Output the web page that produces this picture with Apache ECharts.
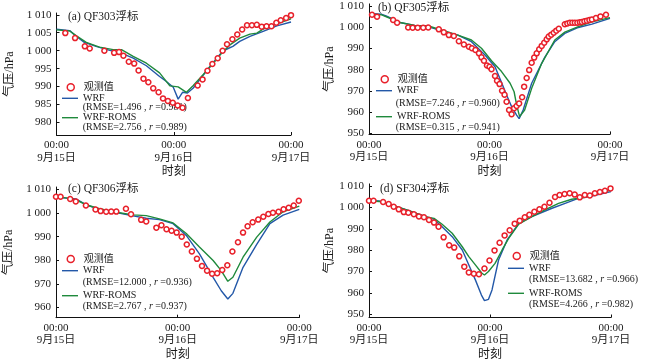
<!DOCTYPE html>
<html><head><meta charset="utf-8">
<script src="https://cdn.jsdelivr.net/npm/echarts@6/dist/echarts.min.js"></script>
<style>html,body{margin:0;padding:0;background:#fff}#c{width:650px;height:363px}</style>
</head><body><div id="c"></div>
<script>
// ---------- data ----------
const xTickHours = [0, 24, 48];
const xTickTimes = ['00:00', '00:00', '00:00'];
const xTickDates = ['9月15日', '9月16日', '9月17日'];
const seriesNames = ['观测值', 'WRF', 'WRF-ROMS'];
const panelTitles = ['(a) QF303浮标', '(b) QF305浮标', '(c) QF306浮标', '(d) SF304浮标'];
const rmseWRF = ['1.496', '7.246', '12.000', '13.682'];
const rWRF = ['0.981', '0.960', '0.936', '0.966'];
const rmseROMS = ['2.756', '0.315', '2.767', '4.266'];
const rROMS = ['0.989', '0.941', '0.937', '0.982'];
const yTicksA = [980, 985, 990, 995, 1000, 1005, 1010];
const yTicksB = [950, 960, 970, 980, 990, 1000, 1010];
const yTicksC = [960, 970, 980, 990, 1000, 1010];
const yTicksD = [950, 960, 970, 980, 990, 1000, 1010];

// panel (a) QF303  [hour since 9/15 00:00, hPa]
const obsA = [[1.8,1004.9],[3.8,1003.5],[5.8,1001.2],[6.8,1000.6],[9.8,1000.0],[11.8,999.4],[12.8,999.6],[13.7,998.6],[14.8,996.9],[15.9,996.4],[16.8,994.5],[17.8,992.2],[18.8,991.2],[19.8,989.5],[20.9,988.4],[21.8,986.7],[22.8,986.0],[23.8,985.5],[24.8,984.7],[25.8,984.1],[26.9,986.8],[28.9,990.3],[29.9,992.0],[30.9,994.4],[31.9,996.3],[33.0,997.9],[34.0,1000.0],[34.9,1001.8],[36.0,1003.2],[37.0,1004.5],[38.0,1005.9],[39.0,1007.1],[40.0,1007.1],[41.0,1007.2],[42.0,1006.7],[43.0,1006.8],[44.0,1006.8],[45.0,1007.8],[45.9,1008.5],[47.0,1009.1],[48.0,1009.9]];
const wrfA = [[0,1006.0],[2.7,1005.6],[3.7,1004.4],[5.7,1002.3],[8.1,1001.2],[10.9,1000.1],[12.9,999.5],[15.7,997.9],[18.4,995.8],[21.1,992.8],[22.5,991.4],[23.9,989.8],[24.9,986.5],[25.8,988.4],[26.8,988.2],[28.0,989.6],[29.3,991.9],[31.4,995.6],[33.4,998.9],[34.8,1000.4],[36.1,1001.2],[37.5,1002.6],[39.6,1004.0],[42.3,1005.4],[45.1,1006.9],[48,1008.0]];
const romsA = [[0,1005.8],[2.7,1005.5],[4.0,1004.2],[6.1,1002.3],[8.8,1001.0],[11.6,1000.3],[13.3,1000.3],[15.7,998.4],[18.4,996.5],[21.1,993.8],[23.2,990.2],[24.9,989.9],[26.6,988.4],[28.0,990.3],[30.0,993.3],[32.1,996.5],[34.1,999.8],[35.5,1001.6],[37.5,1003.5],[39.6,1004.6],[41.0,1004.9],[42.3,1006.0],[45.1,1007.5],[48,1008.9]];

// panel (b) QF305
const obsB = [[0.6,1005.9],[1.6,1005.0],[4.8,1003.4],[5.6,1002.1],[7.8,999.9],[8.7,999.8],[9.7,999.8],[10.8,999.8],[11.8,999.9],[13.9,999.0],[14.9,997.6],[15.9,996.3],[16.9,995.9],[17.9,993.4],[18.9,991.9],[19.9,990.8],[20.5,990.1],[21.2,989.3],[21.9,987.7],[22.4,985.8],[22.9,984.2],[23.5,982.0],[24.0,981.4],[24.4,980.2],[25.1,977.0],[25.5,974.8],[26.0,973.2],[26.5,970.1],[27.0,968.2],[27.4,964.9],[27.9,961.0],[28.4,959.0],[28.9,961.8],[29.4,962.9],[29.9,964.1],[30.5,967.0],[30.9,972.0],[31.4,976.1],[31.9,979.8],[32.4,983.3],[32.9,985.7],[33.4,987.7],[33.9,989.6],[34.4,991.2],[34.9,992.7],[35.4,994.3],[35.8,995.6],[36.3,996.5],[36.8,997.4],[37.3,998.4],[37.8,999.3],[39.0,1001.4],[39.5,1001.8],[40.0,1002.1],[40.5,1002.1],[41.0,1002.1],[41.5,1002.1],[42.0,1002.3],[42.4,1002.5],[42.9,1002.8],[43.4,1003.1],[43.9,1003.4],[44.4,1003.7],[45.2,1004.3],[46.1,1005.1],[47.2,1005.9],[48.1,1007.0]];
const wrfB = [[0,1006.5],[2.4,1006.2],[3.4,1005.3],[6.4,1002.1],[9.1,1000.9],[11.7,1000.3],[14.4,998.4],[17.7,996.3],[20.4,993.2],[23.1,986.9],[25.1,981.4],[26.4,973.9],[27.4,968.1],[28.4,962.6],[29.4,958.6],[29.9,956.9],[30.7,961.0],[32.4,973.6],[35.0,985.8],[37.0,993.2],[39.0,997.1],[41.7,999.9],[44.4,1001.5],[48,1004.2]];
const romsB = [[0,1006.2],[2.4,1005.9],[3.7,1004.7],[6.4,1002.1],[9.1,1000.9],[11.7,1000.7],[14.4,998.7],[17.7,996.3],[20.4,994.0],[22.4,990.1],[24.4,984.2],[26.4,979.1],[28.1,973.6],[28.9,969.6],[29.4,963.4],[30.0,957.9],[31.0,961.0],[32.4,971.2],[34.4,983.0],[37.0,994.0],[39.0,997.7],[41.7,1000.3],[44.4,1002.5],[48,1004.5]];

// panel (c) QF306
const obsC = [[0,1006.9],[0.9,1006.9],[2.8,1005.9],[3.9,1004.9],[5.9,1003.2],[7.8,1001.5],[8.8,1000.8],[9.9,1000.5],[10.9,1000.6],[11.9,1000.6],[13.8,1001.8],[14.8,999.5],[16.8,997.1],[17.8,996.4],[19.8,993.8],[20.8,994.8],[21.8,993.1],[22.8,992.5],[23.8,991.7],[24.8,990.0],[25.8,986.7],[26.8,983.7],[27.8,980.6],[28.8,977.6],[29.8,975.6],[30.8,974.3],[31.8,974.5],[32.8,975.9],[33.8,977.9],[34.8,983.7],[35.9,987.6],[36.9,991.7],[37.8,994.4],[38.8,996.1],[39.9,997.2],[40.9,998.4],[41.9,999.6],[42.8,1000.1],[43.9,1000.5],[44.9,1001.6],[45.9,1002.2],[46.9,1003.2],[47.9,1005.2]];
const wrfC = [[0,1006.6],[2,1006.3],[4,1005.9],[5.9,1003.5],[8.6,1001.5],[11.9,1000.2],[15.2,998.8],[17.8,997.8],[20.4,997.2],[23.1,995.5],[25.7,990.5],[28.3,982.7],[31.0,972.8],[32.6,967.1],[33.9,963.6],[34.9,966.0],[36.9,977.0],[39.6,986.7],[42.2,995.5],[44.8,999.1],[48,1001.5]];
const romsC = [[0,1006.9],[2,1006.4],[4,1005.5],[5.9,1003.5],[8.6,1001.8],[11.9,1000.3],[15.2,999.2],[17.8,998.9],[20.4,997.5],[23.1,995.8],[25.7,991.3],[28.3,985.6],[31.0,979.9],[32.6,975.6],[33.9,971.1],[34.9,972.8],[36.9,981.3],[39.6,989.8],[42.2,996.2],[44.8,1000.5],[48,1002.9]];

// panel (d) SF304
const obsD = [[0,1003.1],[0.9,1003.1],[2.8,1002.5],[3.9,1001.6],[4.9,1000.3],[5.9,999.1],[6.9,997.8],[7.8,997.5],[8.9,996.8],[9.9,995.8],[10.9,995.4],[11.9,994.1],[12.9,992.9],[13.8,991.0],[14.8,986.0],[15.9,982.3],[16.9,981.2],[17.9,977.1],[18.9,972.3],[19.8,969.6],[20.8,969.0],[21.8,968.7],[22.9,971.4],[23.9,975.2],[24.9,979.9],[25.9,983.5],[26.9,986.9],[27.9,989.3],[28.9,992.4],[29.9,993.8],[30.9,995.4],[31.8,996.6],[32.8,998.0],[33.8,999.1],[34.8,1000.3],[35.8,1002.2],[36.9,1004.9],[37.8,1005.8],[38.8,1006.3],[39.8,1006.6],[40.8,1006.0],[41.8,1004.7],[42.8,1005.8],[43.8,1005.6],[44.8,1006.6],[45.8,1007.2],[46.8,1007.8],[47.9,1008.9]];
const wrfD = [[0,1003.1],[2,1003.0],[4.6,1001.0],[7.9,998.5],[11.2,995.7],[12.9,994.4],[14.5,991.0],[16.5,986.3],[18.5,980.1],[19.8,973.1],[21.1,966.1],[22.3,959.0],[22.9,956.4],[23.7,957.0],[24.4,961.4],[25.7,975.4],[27.4,984.8],[29.7,992.5],[32.3,995.7],[36.3,999.6],[38.9,1001.9],[41.5,1004.2],[44.2,1005.3],[48,1007.4]];
const romsD = [[0,1003.1],[2,1002.8],[4.6,1001.0],[7.9,998.5],[11.2,995.7],[12.9,994.9],[14.5,992.1],[16.5,987.9],[18.5,981.6],[19.8,977.0],[21.1,973.1],[22.4,969.2],[22.9,968.4],[23.7,970.0],[25.0,973.8],[26.4,980.1],[27.7,985.5],[29.7,992.2],[32.3,995.7],[34.9,998.8],[37.6,1001.9],[40.2,1003.8],[42.8,1004.7],[45.5,1006.6],[48,1008.1]];

// ---------- layout ----------
const FONT = '"Liberation Serif","Times New Roman","Noto Sans CJK SC",serif';
const TXT = '#1a1a1a';
const C_OBS = '#e8202a', C_WRF = '#2358a8', C_ROMS = '#1f8a3c';
const LINE_ICON = 'path://M0,0 L16,0 L16,1.4 L0,1.4 Z';
const LEG_FS = 10;

const panels = [
  {obs: obsA, wrf: wrfA, roms: romsA, ticks: yTicksA, ymin: 976.5, ymax: 1010.5,
   grid: {left: 56.5, top: 13, width: 234.5, height: 122}, yGap: 41,
   title: [68, 17.5], leg: {x: 62, y: [87.3, 98.3, 117.7]}, rm: {x: 82.7, y: [108.3, 128.3]}},
  {obs: obsB, wrf: wrfB, roms: romsB, ticks: yTicksB, ymin: 949.5, ymax: 1011,
   grid: {left: 369, top: 3.9, width: 241, height: 130.5}, yGap: 33,
   title: [378, 8.5], leg: {x: 376, y: [79.3, 90.7, 116.7]}, rm: {x: 395.7, y: [104, 128.3]}},
  {obs: obsC, wrf: wrfC, roms: romsC, ticks: yTicksC, ymin: 955.7, ymax: 1011,
   grid: {left: 56, top: 187, width: 243.3, height: 130.7}, yGap: 41,
   title: [68, 190], leg: {x: 62, y: [259, 270.7, 295.7]}, rm: {x: 82.7, y: [283.3, 307.7]}},
  {obs: obsD, wrf: wrfD, roms: romsD, ticks: yTicksD, ymin: 948.5, ymax: 1011,
   grid: {left: 369, top: 183.9, width: 242, height: 133.6}, yGap: 33,
   title: [380, 190], leg: {x: 508, y: [256, 268.3, 293.3]}, rm: {x: 529, y: [280.7, 305]}}
];

const grids = [], xAxes = [], yAxes = [], series = [], legends = [], graphics = [];
const fmtY = v => v >= 1000 ? '1 ' + String(v).slice(1) : String(v);

panels.forEach((p, i) => {
  grids.push(Object.assign({containLabel: false}, p.grid));
  xAxes.push({
    type: 'value', gridIndex: i, min: 0, max: 48, interval: 24,
    name: '时刻', nameLocation: 'middle', nameGap: 31,
    nameTextStyle: {fontFamily: FONT, fontSize: 12, color: TXT},
    axisLine: {lineStyle: {color: '#111', width: 1}},
    axisTick: {inside: true, length: 3, lineStyle: {color: '#111'}},
    splitLine: {show: false},
    axisLabel: {fontFamily: FONT, fontSize: 11, color: TXT, margin: 4, lineHeight: 12.5,
      formatter: v => { const k = xTickHours.indexOf(v); return k < 0 ? '' : xTickTimes[k] + '\n' + xTickDates[k]; }}
  });
  yAxes.push({
    type: 'value', gridIndex: i, min: p.ymin, max: p.ymax,
    name: '气压/hPa', nameLocation: 'middle', nameGap: p.yGap, nameRotate: 90,
    nameTextStyle: {fontFamily: FONT, fontSize: 12, color: TXT},
    axisLine: {show: true, lineStyle: {color: '#111', width: 1}},
    axisTick: {show: true, inside: true, length: 3, customValues: p.ticks, lineStyle: {color: '#111'}},
    splitLine: {show: false},
    axisLabel: {fontFamily: FONT, fontSize: 11, color: TXT, margin: 5, customValues: p.ticks, formatter: fmtY}
  });
  series.push({name: seriesNames[1], type: 'line', xAxisIndex: i, yAxisIndex: i, data: p.wrf,
    symbol: 'none', lineStyle: {color: C_WRF, width: 1.4}, itemStyle: {color: C_WRF}, z: 2});
  series.push({name: seriesNames[2], type: 'line', xAxisIndex: i, yAxisIndex: i, data: p.roms,
    symbol: 'none', lineStyle: {color: C_ROMS, width: 1.4}, itemStyle: {color: C_ROMS}, z: 2});
  series.push({name: seriesNames[0], type: 'scatter', xAxisIndex: i, yAxisIndex: i, data: p.obs,
    symbol: 'circle', symbolSize: 5,
    itemStyle: {color: '#ffffff', borderColor: C_OBS, borderWidth: 1.5, opacity: 1}, z: 3});

  // legend: scatter marker
  legends.push({
    data: [seriesNames[0]], left: p.leg.x + 4.5, top: p.leg.y[0] - 5, padding: 0,
    itemWidth: 7, itemHeight: 10, icon: 'circle', selectedMode: false,
    itemStyle: {color: '#ffffff', borderColor: C_OBS, borderWidth: 1.5},
    textStyle: {fontFamily: FONT, fontSize: LEG_FS, color: TXT, padding: [0, 0, 0, 4.5]}
  });
  [1, 2].forEach(k => {
    legends.push({
      data: [seriesNames[k]], left: p.leg.x, top: p.leg.y[k] - 5, padding: 0,
      itemWidth: 16, itemHeight: 10, icon: LINE_ICON, selectedMode: false,
      itemStyle: {color: k === 1 ? C_WRF : C_ROMS, borderWidth: 0},
      lineStyle: {width: 0},
      textStyle: {fontFamily: FONT, fontSize: LEG_FS, color: TXT}
    });
  });
  const mk = (rmse, r) => '{a|(RMSE=' + rmse + ' , }{i|r}{a| =' + r + ')}';
  const rich = {a: {fontFamily: FONT, fontSize: LEG_FS, fill: TXT}, i: {fontFamily: FONT, fontSize: LEG_FS, fontStyle: 'italic', fill: TXT}};
  graphics.push({type: 'text', left: p.rm.x, top: p.rm.y[0] - 6,
    style: {text: mk(rmseWRF[i], rWRF[i]), rich: rich, font: LEG_FS + 'px ' + FONT, fill: TXT}});
  graphics.push({type: 'text', left: p.rm.x, top: p.rm.y[1] - 6,
    style: {text: mk(rmseROMS[i], rROMS[i]), rich: rich, font: LEG_FS + 'px ' + FONT, fill: TXT}});
  graphics.push({type: 'text', left: p.title[0], top: p.title[1] - 6.5,
    style: {text: panelTitles[i], font: '11.5px ' + FONT, fill: TXT}});
});

const chart = echarts.init(document.getElementById('c'), null, {renderer: 'canvas'});
chart.setOption({
  animation: false,
  backgroundColor: '#ffffff',
  grid: grids, xAxis: xAxes, yAxis: yAxes, series: series, legend: legends, graphic: graphics
});
</script></body></html>
